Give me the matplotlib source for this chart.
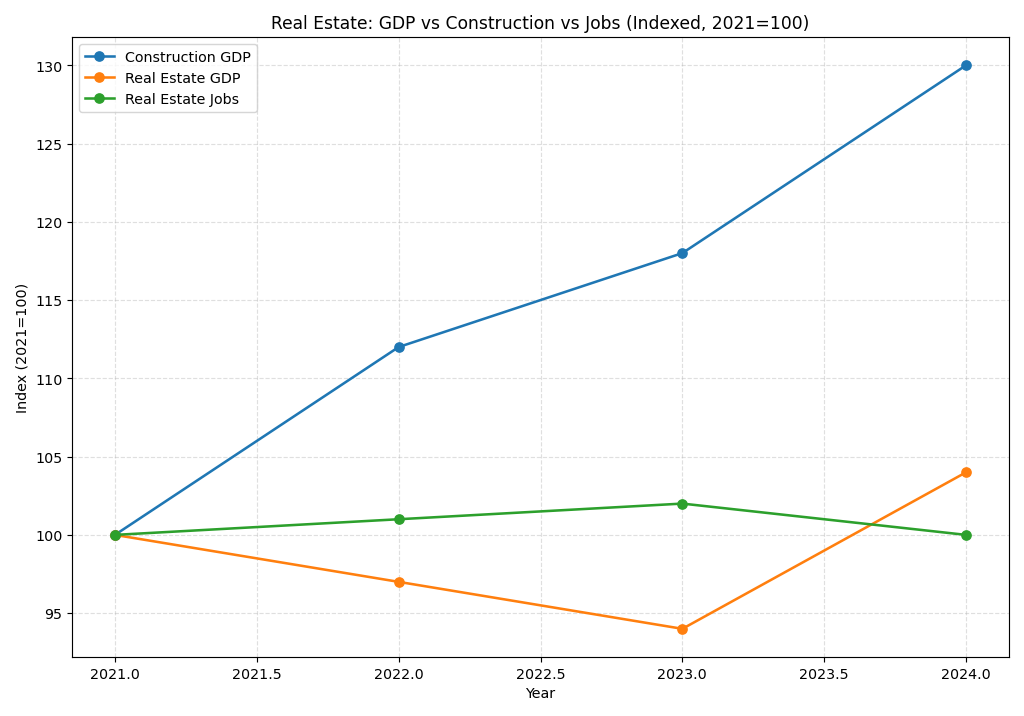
import matplotlib
matplotlib.use("Agg")
import matplotlib.pyplot as plt

years = [2021, 2022, 2023, 2024]
construction_gdp = [100, 112, 118, 130]
real_estate_gdp = [100, 97, 94, 104]
real_estate_jobs = [100, 101, 102, 100]


def make_chart():
    fig, ax = plt.subplots(figsize=(10, 7), dpi=102.4)

    # same style for all three series
    style = dict(marker='o', linewidth=1.8, markersize=6.5)
    ax.plot(years, construction_gdp, label='Construction GDP', **style)
    ax.plot(years, real_estate_gdp, label='Real Estate GDP', **style)
    ax.plot(years, real_estate_jobs, label='Real Estate Jobs', **style)

    ax.set_title('Real Estate: GDP vs Construction vs Jobs (Indexed, 2021=100)', fontsize=12)
    ax.set_xlabel('Year')
    ax.set_ylabel('Index (2021=100)')
    ax.grid(True, linestyle='--', alpha=0.4)
    ax.legend(loc='upper left')

    fig.tight_layout()
    fig.savefig('out.png')


if __name__ == "__main__":
    make_chart()
